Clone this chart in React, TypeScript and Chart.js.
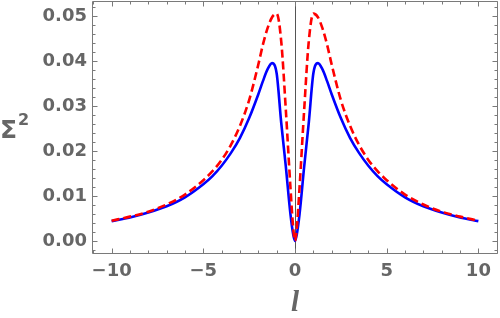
import React, { useEffect, useRef } from "react";
import { Chart, registerables } from "chart.js";

Chart.register(...registerables);

// ---- data ----
const lValues = [
  -10, -9, -8, -7, -6, -5, -4.5, -4, -3.5, -3, -2.5, -2, -1.75, -1.5, -1.25, -1, -0.75, -0.5, -0.25, -0.1, 0,
  0.1, 0.25, 0.5, 0.75, 1, 1.25, 1.5, 1.75, 2, 2.5, 3, 3.5, 4, 4.5, 5, 6, 7, 8, 9, 10,
];
const sigmaBlue = [
  0.0044, 0.0052, 0.0063, 0.0077, 0.0097, 0.0126, 0.0144, 0.0167, 0.0195, 0.0229, 0.0273, 0.0326, 0.0355, 0.0381, 0.0395, 0.0372, 0.0262, 0.0165, 0.006, 0.0015, 0.0,
  0.0015, 0.006, 0.0165, 0.0262, 0.0372, 0.0395, 0.0381, 0.0355, 0.0326, 0.0273, 0.0229, 0.0195, 0.0167, 0.0144, 0.0126, 0.0097, 0.0077, 0.0063, 0.0052, 0.0044,
];
const sigmaRed = [
  0.0045, 0.0054, 0.0065, 0.0081, 0.0103, 0.0135, 0.0155, 0.018, 0.0213, 0.0256, 0.0313, 0.0392, 0.0436, 0.0472, 0.0497, 0.0505, 0.0443, 0.0291, 0.012, 0.003, 0.0,
  0.003, 0.012, 0.0291, 0.0443, 0.0505, 0.0497, 0.0472, 0.0436, 0.0392, 0.0313, 0.0256, 0.0213, 0.018, 0.0155, 0.0135, 0.0103, 0.0081, 0.0065, 0.0054, 0.0045,
];
const xTickValues = [-10, -5, 0, 5, 10];
const yTickValues = [0, 0.01, 0.02, 0.03, 0.04, 0.05];
const xMinorTicks = [-11, -10, -9, -8, -7, -6, -5, -4, -3, -2, -1, 0, 1, 2, 3, 4, 5, 6, 7, 8, 9, 10, 11];
const yMinorTicks = [
  -0.002, 0, 0.002, 0.004, 0.006, 0.008, 0.01, 0.012, 0.014, 0.016, 0.018, 0.02, 0.022, 0.024, 0.026, 0.028,
  0.03, 0.032, 0.034, 0.036, 0.038, 0.04, 0.042, 0.044, 0.046, 0.048, 0.05, 0.052,
];
const xTitle = "l";
const yTitle = "Σ";
const yTitleSup = "2";

const GRAY = "#666666";
const FRAME = "#7a7a7a";

const framePlugin = {
  id: "mmaFrame",
  beforeDatasetsDraw(chart: any) {
    const { ctx, chartArea: a, scales } = chart;
    const x0 = Math.round(scales.x.getPixelForValue(0)) + 0.5;
    ctx.save();
    ctx.strokeStyle = "#555555";
    ctx.lineWidth = 1;
    ctx.beginPath();
    ctx.moveTo(x0, a.top);
    ctx.lineTo(x0, a.bottom);
    ctx.stroke();
    ctx.restore();
  },
  afterDatasetsDraw(chart: any) {
    const { ctx, chartArea: a, scales } = chart;
    const xs = scales.x;
    const ys = scales.y;
    const L = Math.round(a.left) + 0.5;
    const R = Math.round(a.right) - 0.5;
    const T = Math.round(a.top) + 0.5;
    const B = Math.round(a.bottom) - 0.5;
    ctx.save();
    ctx.strokeStyle = FRAME;
    ctx.lineWidth = 1;
    ctx.beginPath();
    ctx.rect(L, T, R - L, B - T);
    ctx.stroke();
    ctx.beginPath();
    xMinorTicks.forEach((v) => {
      const px = Math.round(xs.getPixelForValue(v)) + 0.5;
      const len = xTickValues.includes(v) ? 5 : 3;
      ctx.moveTo(px, B);
      ctx.lineTo(px, B - len);
      ctx.moveTo(px, T);
      ctx.lineTo(px, T + len);
    });
    yMinorTicks.forEach((v) => {
      const py = Math.round(ys.getPixelForValue(v)) + 0.5;
      const major = yTickValues.some((t) => Math.abs(t - v) < 1e-9);
      const len = major ? 5 : 3;
      ctx.moveTo(L, py);
      ctx.lineTo(L + len, py);
      ctx.moveTo(R, py);
      ctx.lineTo(R - len, py);
    });
    ctx.stroke();
    ctx.restore();
  },
  afterDraw(chart: any) {
    const { ctx, chartArea: a } = chart;
    ctx.save();
    ctx.fillStyle = GRAY;
    ctx.textBaseline = "alphabetic";
    ctx.textAlign = "left";
    ctx.font = "bold 25px 'DejaVu Sans'";
    const yMid = (a.top + a.bottom) / 2;
    ctx.fillText(yTitle, 0, yMid + 10);
    const w = ctx.measureText(yTitle).width;
    ctx.font = "bold 16px 'DejaVu Sans'";
    ctx.fillText(yTitleSup, w + 1, yMid - 3);
    ctx.font = "italic bold 29px 'Liberation Serif'";
    ctx.textAlign = "center";
    ctx.fillText(xTitle, (a.left + a.right) / 2, 311);
    ctx.restore();
  },
};

export default function App() {
  const ref = useRef<HTMLCanvasElement | null>(null);
  useEffect(() => {
    document.body.style.margin = "0";
    const canvas = ref.current;
    if (!canvas) return;
    const tickFont = { family: "'DejaVu Sans'", size: 18, weight: "bold" as const };
    const chart = new Chart(canvas, {
      type: "line",
      data: {
        datasets: [
          {
            data: lValues.map((l, i) => ({ x: l, y: sigmaRed[i] })),
            borderColor: "rgb(255,0,0)",
            borderWidth: 2.6,
            borderDash: [8, 4],
            pointRadius: 0,
            cubicInterpolationMode: "monotone",
            fill: false,
            order: 0,
          },
          {
            data: lValues.map((l, i) => ({ x: l, y: sigmaBlue[i] })),
            borderColor: "rgb(0,0,255)",
            borderWidth: 2.6,
            pointRadius: 0,
            cubicInterpolationMode: "monotone",
            fill: false,
            order: 1,
          },
        ],
      },
      options: {
        animation: false,
        responsive: false,
        maintainAspectRatio: false,
        layout: { padding: { top: 1, right: 2, left: 0, bottom: 0 } },
        plugins: { legend: { display: false }, tooltip: { enabled: false } },
        scales: {
          x: {
            type: "linear",
            min: -11.07,
            max: 11.07,
            afterBuildTicks: (s: any) => {
              s.ticks = xTickValues.map((v) => ({ value: v }));
            },
            afterFit: (s: any) => {
              s.height = 64;
              s.paddingLeft = 0;
              s.paddingRight = 0;
            },
            grid: { display: false, drawTicks: false },
            border: { display: false },
            ticks: {
              font: tickFont,
              color: GRAY,
              padding: 7,
              maxRotation: 0,
              autoSkip: false,
              callback: (v: any) => (Number(v) < 0 ? "\u2212" + Math.abs(Number(v)) : String(v)),
            },
          },
          y: {
            type: "linear",
            min: -0.0029,
            max: 0.0533,
            afterBuildTicks: (s: any) => {
              s.ticks = yTickValues.map((v) => ({ value: v }));
            },
            afterFit: (s: any) => {
              s.width = 92;
              s.paddingTop = 0;
              s.paddingBottom = 0;
            },
            grid: { display: false, drawTicks: false },
            border: { display: false },
            ticks: {
              font: tickFont,
              color: GRAY,
              padding: 5,
              autoSkip: false,
              callback: (v: any) => Number(v).toFixed(2),
            },
          },
        },
      },
      plugins: [framePlugin],
    });
    return () => chart.destroy();
  }, []);
  return <canvas ref={ref} width={500} height={318} style={{ display: "block", width: 500, height: 318 }} />;
}
